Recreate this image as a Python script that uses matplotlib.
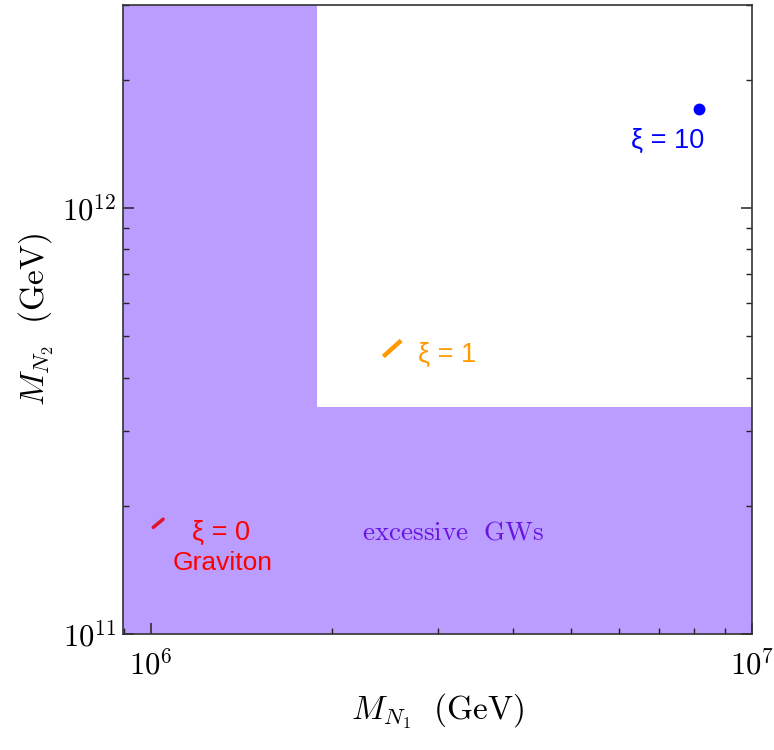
import matplotlib
matplotlib.use("Agg")
import matplotlib.pyplot as plt
from matplotlib.ticker import FuncFormatter
import numpy as np

plt.rcParams["mathtext.fontset"] = "cm"

# axis ranges
x_lim = [8.98e5, 1e7]
y_lim = [1e11, 3.0e12]

# excluded region (excessive GWs): L-shaped corner
x_corner = 1.89e6
y_corner = 3.41e11
region_x = [x_lim[0], x_lim[1], x_lim[1], x_corner, x_corner, x_lim[0]]
region_y = [y_lim[0], y_lim[0], y_corner, y_corner, y_lim[1], y_lim[1]]

# benchmark points
xi0_x = [1.008e6, 1.047e6]
xi0_y = [1.78e11, 1.86e11]
xi1_x = [2.45e6, 2.59e6]
xi1_y = [4.52e11, 4.85e11]
xi10_x = [8.17e6]
xi10_y = [1.71e12]

fig = plt.figure(figsize=(7.74, 7.5), dpi=100)
ax = fig.add_axes([0.159, 0.1547, 0.8126, 0.8386])

ax.fill(region_x, region_y, color="#BA9DFE", lw=0, zorder=1)

ax.plot(xi0_x, xi0_y, color="#E0142C", lw=2.5, solid_capstyle="round", zorder=3)
ax.plot(xi1_x, xi1_y, color="#FF9900", lw=3.2, zorder=3)
ax.plot(xi10_x, xi10_y, "o", color="#0000FF", ms=7.5, zorder=3)

sans = "Liberation Sans"
ax.text(7.25e6, 1.44e12, "ξ = 10", color="#0000FF", fontsize=19.5, family=sans,
        ha="center", va="center")
ax.text(2.78e6, 4.52e11, "ξ = 1", color="#FF9900", fontsize=19.5, family=sans,
        ha="left", va="center")
ax.text(1.307e6, 1.726e11, "ξ = 0", color="#FF0000", fontsize=19.5, family=sans,
        ha="center", va="center")
ax.text(1.317e6, 1.468e11, "Graviton", color="#FF0000", fontsize=19, family=sans,
        ha="center", va="center")
ax.text(3.175e6, 1.735e11, r"$\mathrm{excessive\ \ GWs}$", color="#6A14E0",
        fontsize=19.5, ha="center", va="center")

ax.set_xscale("log")
ax.set_yscale("log")
ax.set_xlim(x_lim)
ax.set_ylim(y_lim)

pow10 = FuncFormatter(lambda v, pos: r"$10^{%d}$" % round(np.log10(v)))
ax.xaxis.set_major_formatter(pow10)
ax.yaxis.set_major_formatter(pow10)

ax.set_xlabel(r"$M_{N_1}\ \ \mathrm{(GeV)}$", fontsize=24, labelpad=8)
ax.set_ylabel(r"$M_{N_2}\ \ \mathrm{(GeV)}$", fontsize=24, labelpad=4)

ax.tick_params(which="both", direction="in", top=False, right=True,
               colors="#222222", labelcolor="black")
ax.tick_params(which="major", length=8, width=1.1, labelsize=22)
ax.tick_params(which="minor", length=4.5, width=1.0)
ax.tick_params(axis="x", which="major", pad=11)
ax.tick_params(axis="y", which="major", pad=5)

for s in ax.spines.values():
    s.set_color("#333333")
    s.set_linewidth(1.2)

fig.savefig("out.png", dpi=100)
